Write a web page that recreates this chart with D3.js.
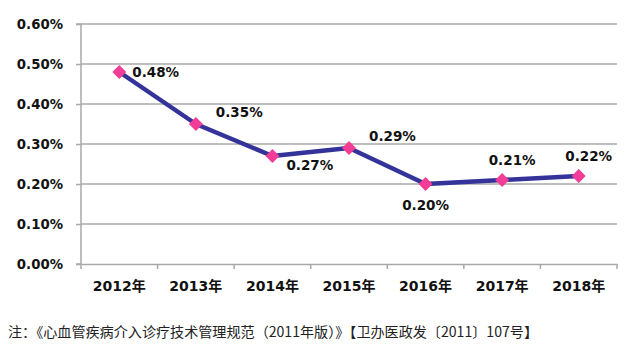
<!DOCTYPE html>
<html><head><meta charset="utf-8">
<script src="https://cdn.jsdelivr.net/npm/d3@7"></script>
<style>body{margin:0;background:#fff}svg{display:block}</style>
</head><body>
<svg id="c" width="630" height="357"></svg>
<script>
const categories = ["2012年","2013年","2014年","2015年","2016年","2017年","2018年"];
const values = [0.48, 0.35, 0.27, 0.29, 0.20, 0.21, 0.22];
const yTicks = [0, 0.1, 0.2, 0.3, 0.4, 0.5, 0.6];
const labelPos = ["right","upright","downright","upright","below","above","above"];
const footnote = "注：《心血管疾病介入诊疗技术管理规范（2011年版）》【卫办医政发〔2011〕107号】";

const svg = d3.select("#c");
const m = {l:81, r:617, t:24, b:264};
const x = d3.scaleBand().domain(categories).range([m.l, m.r]);
const y = d3.scaleLinear().domain([0, 0.6]).range([m.b, m.t]);
const font = "'DejaVu Sans','Noto Sans CJK SC',sans-serif";

// gridlines
svg.append("g").selectAll("line").data(yTicks.filter(d=>d>0)).join("line")
  .attr("x1", m.l).attr("x2", m.r).attr("y1", d=>y(d)).attr("y2", d=>y(d))
  .attr("stroke", "#a8a8a8").attr("stroke-width", 1.5);

// y axis
const ya = svg.append("g").attr("transform", `translate(${m.l},0)`)
  .call(d3.axisLeft(y).tickValues(yTicks).tickFormat(d=>d.toFixed(2)+"%").tickSize(5).tickPadding(13));
ya.select(".domain").attr("stroke","#a8a8a8").attr("stroke-width",1.5).attr("d",`M-5,${m.t}H0V${m.b}H-5`);
ya.selectAll(".tick line").attr("stroke","#a8a8a8").attr("stroke-width",1.5);
ya.selectAll("text").attr("font-family",font).attr("font-weight","bold").attr("font-size",13.3).attr("fill","#111");

// x axis
const xa = svg.append("g").attr("transform", `translate(0,${m.b})`)
  .call(d3.axisBottom(x).tickSize(0).tickPadding(17));
xa.select(".domain").attr("stroke","#a8a8a8").attr("stroke-width",1.5);
xa.selectAll("text").attr("font-family",font).attr("font-weight","bold").attr("font-size",14).attr("fill","#111");
// tick marks at band boundaries
const bounds = categories.map(c=>x(c)).concat([m.r]);
xa.append("g").selectAll("line").data(bounds).join("line")
  .attr("x1",d=>d).attr("x2",d=>d).attr("y1",0).attr("y2",5)
  .attr("stroke","#a8a8a8").attr("stroke-width",1.5);

// line
const cx = c => x(c) + x.bandwidth()/2;
svg.append("path").datum(values).attr("d", d3.line().x((d,i)=>cx(categories[i])).y(d=>y(d)))
  .attr("fill","none").attr("stroke","#33339a").attr("stroke-width",4.5).attr("stroke-linejoin","round");

// markers
svg.append("g").selectAll("path").data(values).join("path")
  .attr("transform",(d,i)=>`translate(${cx(categories[i])},${y(d)})`)
  .attr("d","M0,-7L7,0L0,7L-7,0Z").attr("fill","#f23d96");

// labels
const off = {right:[13,0,"start"], upright:[20,-12,"start"], downright:[14,9,"start"], below:[0,21,"middle"], above:[10,-20,"middle"]};
svg.append("g").selectAll("text").data(values).join("text")
  .attr("x",(d,i)=>cx(categories[i])+off[labelPos[i]][0])
  .attr("y",(d,i)=>y(d)+off[labelPos[i]][1])
  .attr("dy","0.35em").attr("text-anchor",(d,i)=>off[labelPos[i]][2])
  .attr("font-family",font).attr("font-weight","bold").attr("font-size",13.5).attr("fill","#111")
  .text(d=>d.toFixed(2)+"%");

// footnote
svg.append("text").attr("x",8).attr("y",332).attr("dy","0.35em")
  .attr("font-family","'Noto Sans CJK SC',sans-serif").attr("font-size",14.1).attr("fill","#222")
  .text(footnote);
</script>
</body></html>
